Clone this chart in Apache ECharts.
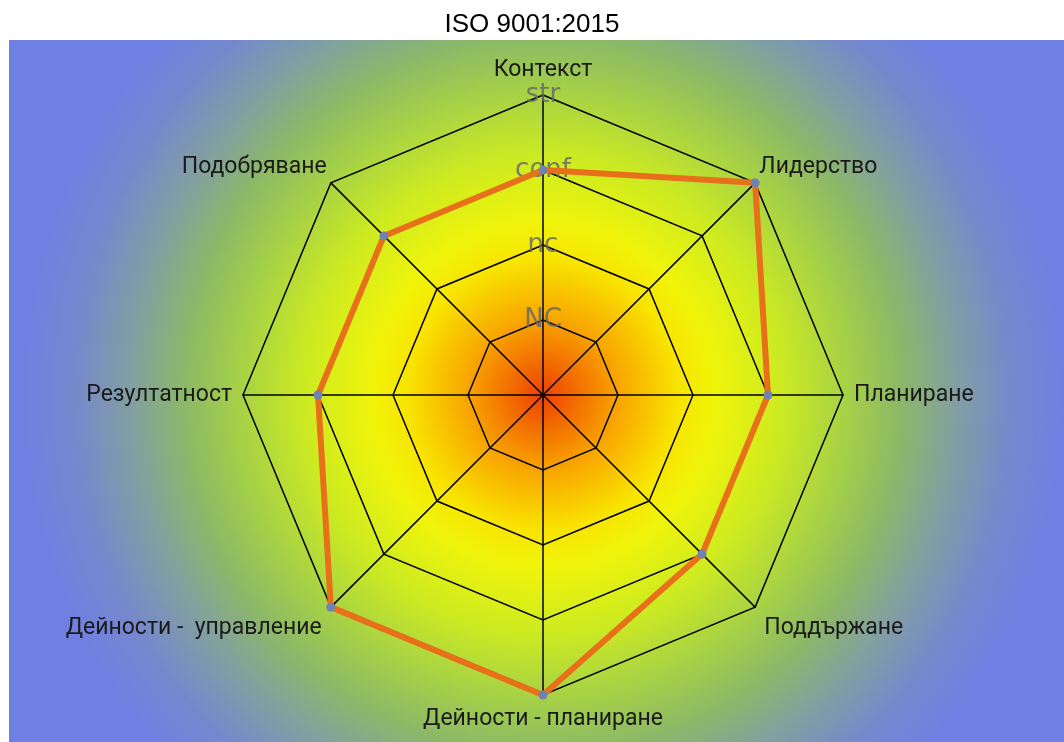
<!DOCTYPE html>
<html>
<head>
<meta charset="utf-8">
<script src="https://cdn.jsdelivr.net/npm/echarts@6/dist/echarts.min.js"></script>
<style>html,body{margin:0;padding:0;background:#fff;}#c{width:1064px;height:742px;}</style>
</head>
<body>
<div id="c"></div>
<script>
// clockwise order starting at top
const categories = ['Контекст', 'Лидерство', 'Планиране', 'Поддържане', 'Дейности - планиране', 'Дейности -  управление', 'Резултатност', 'Подобряване'];
const values = [3, 4, 3, 3, 4, 4, 3, 3];
const levelLabels = ['', 'NC', 'nc', 'conf', 'str'];
const maxLevel = 4;

// ECharts radar runs counter-clockwise: reorder so the visual order is clockwise
const order = [0].concat(categories.map((_, i) => i).slice(1).reverse());
const n = categories.length;
const indicator = order.map((idx, k) => {
  const ind = {name: categories[idx], min: 0, max: maxLevel};
  const ang = Math.PI / 2 + k * 2 * Math.PI / n;
  const s = Math.sin(ang);
  ind.nameTextStyle = {verticalAlign: s > 0.1 ? 'bottom' : (s < -0.1 ? 'top' : 'middle')};
  ind.nameGap = s > 0.1 ? 6 : (s < -0.1 ? 13 : 11);
  if (k === 0) ind.axisLabel = {show: true};
  return ind;
});
const seriesValues = order.map(idx => values[idx]);

const chart = echarts.init(document.getElementById('c'), null, {renderer: 'canvas'});
chart.setOption({
  animation: false,
  title: {
    text: 'ISO 9001:2015', left: 'center', top: 7,
    textStyle: {fontFamily: 'Liberation Sans, Arial', fontSize: 26, fontWeight: 'normal', color: '#000'}
  },
  graphic: [{
    type: 'rect', z: -10, silent: true,
    shape: {x: 9, y: 40, width: 1055, height: 702},
    style: {
      fill: {
        type: 'radial', x: 543, y: 395, r: 520, global: true,
        colorStops: [
          {offset: 0, color: '#ee4000'},
          {offset: 0.06, color: '#f26a00'},
          {offset: 0.15, color: '#f8a800'},
          {offset: 0.26, color: '#f8e400'},
          {offset: 0.33, color: '#f0f40a'},
          {offset: 0.46, color: '#ccea22'},
          {offset: 0.59, color: '#a4d048'},
          {offset: 0.69, color: '#8cb868'},
          {offset: 0.79, color: '#82a0a0'},
          {offset: 0.90, color: '#7688cc'},
          {offset: 1, color: '#7080e2'}
        ]
      }
    }
  }],
  radar: {
    center: [543, 395],
    radius: 300,
    startAngle: 90,
    splitNumber: 4,
    shape: 'polygon',
    nameGap: 11,
    axisName: {color: '#1a1a1a', fontFamily: 'Roboto', fontSize: 23},
    axisLine: {show: true, lineStyle: {color: '#000', width: 1.5}},
    splitLine: {show: true, lineStyle: {color: '#000', width: 1.5}},
    splitArea: {show: false},
    axisTick: {show: false},
    axisLabel: {
      show: false, margin: 0, align: 'center', verticalAlign: 'middle',
      color: 'rgba(105,105,105,0.85)', fontFamily: 'DejaVu Sans', fontSize: 26,
      formatter: v => levelLabels[Math.round(v)] || ''
    },
    indicator: indicator
  },
  series: [{
    type: 'radar',
    symbol: 'circle',
    symbolSize: 9,
    lineStyle: {color: '#e8701a', width: 6},
    itemStyle: {color: '#6f82b4'},
    z: 5,
    data: [{value: seriesValues}]
  }]
});
</script>
</body>
</html>
